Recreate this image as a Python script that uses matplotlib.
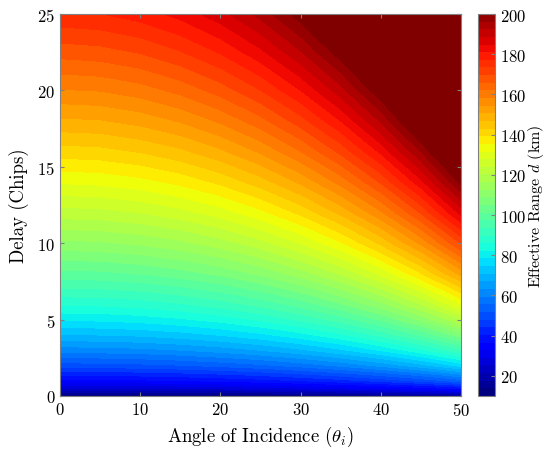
import numpy as np
import matplotlib
matplotlib.use("Agg")
import matplotlib.pyplot as plt
from matplotlib.colors import Normalize

plt.rcParams['font.family'] = 'serif'
plt.rcParams['font.serif'] = ['cmr10', 'DejaVu Serif']
plt.rcParams['mathtext.fontset'] = 'cm'
plt.rcParams['axes.formatter.use_mathtext'] = True

# Angle of incidence (deg) - columns
angles = [0, 5, 10, 15, 20, 25, 30, 35, 40, 45, 50]
# Delay (chips) - rows
delays = [0, 0.5, 1, 2, 3, 4, 5, 6, 8, 10, 12, 14, 16, 18, 20, 22.5, 25]
# Effective range d (km)
# (values above 200 are shown saturated in the chart)
range_km = [
    [10.0, 10.0, 10.1, 10.3, 10.6, 11.0, 11.5, 12.1, 12.9, 13.9, 15.2],
    [25.0, 25.1, 25.3, 25.8, 26.5, 27.4, 28.6, 30.2, 32.2, 34.7, 38.0],
    [35.3, 35.4, 35.8, 36.5, 37.5, 38.8, 40.5, 42.7, 45.5, 49.1, 53.7],
    [49.9, 50.1, 50.7, 51.6, 53.0, 54.8, 57.2, 60.3, 64.3, 69.4, 76.0],
    [61.1, 61.4, 62.0, 63.2, 64.9, 67.1, 70.1, 73.9, 78.8, 85.0, 93.0],
    [70.6, 70.9, 71.6, 73.0, 74.9, 77.5, 80.9, 85.3, 90.9, 98.1, 107.4],
    [78.9, 79.2, 80.1, 81.6, 83.7, 86.7, 90.5, 95.4, 101.7, 109.7, 120.1],
    [86.5, 86.8, 87.7, 89.4, 91.7, 94.9, 99.1, 104.5, 111.4, 120.2, 131.6],
    [99.8, 100.2, 101.3, 103.2, 105.9, 109.6, 114.5, 120.7, 128.6, 138.8, 151.9],
    [111.6, 112.0, 113.3, 115.4, 118.4, 122.6, 128.0, 134.9, 143.8, 155.2, 169.9],
    [122.3, 122.7, 124.1, 126.4, 129.7, 134.3, 140.2, 147.8, 157.5, 170.0, 186.1],
    [132.1, 132.6, 134.0, 136.5, 140.1, 145.0, 151.4, 159.6, 170.1, 183.6, 201.0],
    [141.2, 141.7, 143.3, 145.9, 149.8, 155.0, 161.9, 170.7, 181.9, 196.3, 214.9],
    [149.8, 150.3, 152.0, 154.8, 158.9, 164.4, 171.7, 181.0, 192.9, 208.2, 227.9],
    [157.9, 158.4, 160.2, 163.2, 167.5, 173.3, 181.0, 190.8, 203.4, 219.4, 240.2],
    [167.4, 168.1, 169.9, 173.1, 177.6, 183.8, 192.0, 202.4, 215.7, 232.7, 254.8],
    [176.5, 177.1, 179.1, 182.4, 187.2, 193.8, 202.3, 213.3, 227.4, 245.3, 268.6],
]
x_ticks = [0, 10, 20, 30, 40, 50]
y_ticks = [0, 5, 10, 15, 20, 25]
cbar_ticks = [20, 40, 60, 80, 100, 120, 140, 160, 180, 200]

fig = plt.figure(figsize=(5.46, 4.52), dpi=100)
ax = fig.add_axes([60/546, 55/452, 401/546, 382/452])
cax = fig.add_axes([478/546, 55/452, 17/546, 382/452])

Z = np.array(range_km)
levels = np.linspace(10, 200, 51)
cmap = plt.get_cmap('jet')
norm = Normalize(10, 200)
# each band takes the colour of its lower level (MATLAB-style)
band_colors = [cmap(norm(v)) for v in levels[:-1]]
cs = ax.contourf(angles, delays, Z, levels=levels, colors=band_colors)
# saturated region (d >= 200)
ax.contourf(angles, delays, Z, levels=[200, 1000], colors=[cmap(1.0)])

ax.set_xlim(0, 50)
ax.set_ylim(0, 25)
ax.set_xticks(x_ticks)
ax.set_yticks(y_ticks)
ax.tick_params(direction='in', length=3, color='#808080', labelsize=12,
               top=True, right=True)
for s in ax.spines.values():
    s.set_color('#808080')
    s.set_linewidth(0.8)
ax.set_xlabel(r'Angle of Incidence ($\theta_i$)', fontsize=13.5, labelpad=4)
ax.set_ylabel('Delay (Chips)', fontsize=13.5, labelpad=6)

cb = fig.colorbar(cs, cax=cax, ticks=cbar_ticks)
cb.ax.tick_params(direction='in', length=3, color='#808080', labelsize=12)
cb.outline.set_edgecolor('#808080')
cb.outline.set_linewidth(0.8)
cb.set_label(r'Effective Range $d$ (km)', fontsize=11.5, labelpad=0)

fig.savefig('out.png', dpi=100)
